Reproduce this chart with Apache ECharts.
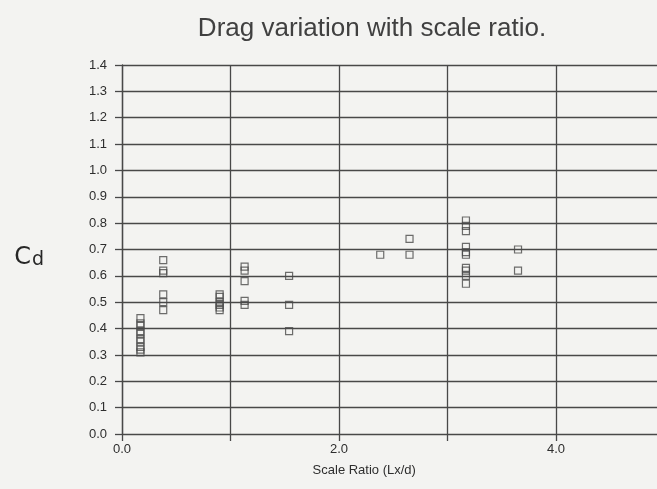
<!DOCTYPE html>
<html>
<head>
<meta charset="utf-8">
<script src="https://cdn.jsdelivr.net/npm/echarts@6/dist/echarts.min.js"></script>
<style>
  html, body { margin: 0; padding: 0; background: #f3f3f1; }
  #chart { width: 657px; height: 489px; }
</style>
</head>
<body>
<div id="chart"></div>
<script>
// Measured drag coefficient (Cd) at each scale ratio (Lx/d)
const scaleRatios = [0.17, 0.38, 0.90, 1.13, 1.54, 2.38, 2.65, 3.17, 3.65];
const cdAt017 = [0.44, 0.42, 0.41, 0.39, 0.38, 0.36, 0.35, 0.33, 0.32, 0.31];
const cdAt038 = [0.66, 0.62, 0.61, 0.53, 0.50, 0.47];
const cdAt090 = [0.53, 0.52, 0.50, 0.49, 0.48, 0.47];
const cdAt113 = [0.635, 0.62, 0.58, 0.505, 0.49];
const cdAt154 = [0.60, 0.49, 0.39];
const cdAt238 = [0.68];
const cdAt265 = [0.74, 0.68];
const cdAt317 = [0.81, 0.79, 0.77, 0.71, 0.69, 0.68, 0.63, 0.62, 0.60, 0.57];
const cdAt365 = [0.70, 0.62];
const cdGroups = [cdAt017, cdAt038, cdAt090, cdAt113, cdAt154, cdAt238, cdAt265, cdAt317, cdAt365];

// Axis ticks
const xLabelledTicks = [0, 2, 4];
const yTicks = [0.0, 0.1, 0.2, 0.3, 0.4, 0.5, 0.6, 0.7, 0.8, 0.9, 1.0, 1.1, 1.2, 1.3, 1.4];

const titleText = 'Drag variation with scale ratio.';
const xName = 'Scale Ratio (Lx/d)';

const points = [];
scaleRatios.forEach((sr, i) => {
  cdGroups[i].forEach(cd => points.push([sr, cd]));
});

const ink = '#484848';
const textInk = '#2e2e2e';
const font = '"Liberation Sans", Arial, sans-serif';

const chart = echarts.init(document.getElementById('chart'), null, { renderer: 'canvas' });
chart.setOption({
  backgroundColor: '#f3f3f1',
  animation: false,
  title: {
    text: titleText,
    left: 367, top: 11, textAlign: 'center',
    textStyle: { fontFamily: font, fontSize: 26, fontWeight: 'normal', color: '#404040' }
  },
  // the plot runs on past the right edge of the page (x = 5.0 falls just outside)
  grid: { left: 122, top: 65, width: 542.5, height: 369, outerBoundsMode: 'none', containLabel: false },
  xAxis: {
    type: 'value', min: 0, max: 5, interval: 1,
    name: xName, nameLocation: 'middle', nameGap: 30,
    nameTextStyle: { fontFamily: font, fontSize: 13, color: textInk, padding: [0, 58, 0, 0] },
    axisLine: { show: false },
    axisTick: { show: true, inside: false, length: 7, lineStyle: { color: ink, width: 1.3 } },
    splitLine: { show: true, lineStyle: { color: ink, width: 1.3 } },
    axisLabel: {
      margin: 9, fontFamily: font, fontSize: 13, color: textInk,
      formatter: v => xLabelledTicks.includes(Math.round(v)) ? v.toFixed(1) : ''
    }
  },
  yAxis: {
    type: 'value', min: yTicks[0], max: yTicks[yTicks.length - 1], interval: 0.1,
    name: '{c|C}{d|d}', nameLocation: 'middle', nameRotate: 0, nameGap: 78,
    nameTextStyle: {
      padding: [14, 0, 0, 0],
      rich: {
        c: { fontFamily: '"DejaVu Sans", sans-serif', fontSize: 24, color: '#262626', verticalAlign: 'bottom' },
        d: { fontFamily: '"DejaVu Sans", sans-serif', fontSize: 19, color: '#262626', padding: [7, 0, 0, 1], verticalAlign: 'bottom' }
      }
    },
    axisLine: { show: true, lineStyle: { color: ink, width: 1.3 } },
    axisTick: { show: true, inside: false, length: 7, lineStyle: { color: ink, width: 1.3 } },
    splitLine: { show: true, lineStyle: { color: ink, width: 1.3 } },
    axisLabel: {
      margin: 15, fontFamily: font, fontSize: 13, color: textInk,
      formatter: v => v.toFixed(1)
    }
  },
  series: [{
    type: 'scatter',
    data: points,
    symbol: 'rect',
    symbolSize: 7,
    itemStyle: { color: 'rgba(0,0,0,0)', borderColor: '#4a4a4a', borderWidth: 1.2 }
  }]
});
</script>
</body>
</html>
